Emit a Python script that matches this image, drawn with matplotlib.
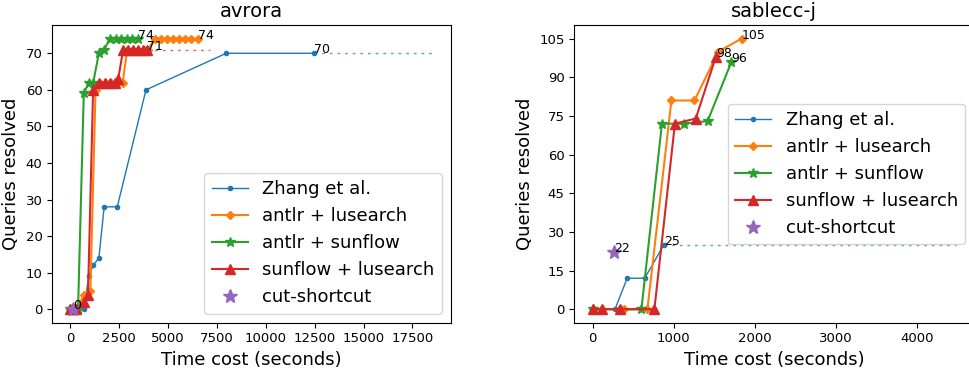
import matplotlib
matplotlib.use("Agg")
import matplotlib.pyplot as plt

# ---- avrora ----
av_zhang_x = [0, 300, 683, 937, 1166, 1455, 1727, 2396, 3867, 7977, 12450]
av_zhang_y = [0, 0, 0, 9, 12, 14, 28, 28, 60, 70, 70]
av_zhang_tail_x = [12450, 18550]

av_antlr_lus_x = [0, 150, 300, 700, 1020, 1284, 1505, 1800, 2090, 2380, 2670,
                  2907, 3200, 3480, 3760, 3970, 4311, 4618, 4944, 5251, 5558,
                  5885, 6192, 6530]
av_antlr_lus_y = [0, 0, 0, 4, 5, 60, 62, 62, 62, 62, 62,
                  71, 71, 71, 71, 71, 74, 74, 74, 74, 74,
                  74, 74, 74]

av_antlr_sun_x = [0, 150, 390, 683, 940, 1166, 1455, 1727, 2018, 2311, 2584,
                  2876, 3164, 3441]
av_antlr_sun_y = [0, 0, 0, 59, 62, 62, 70, 71, 74, 74, 74, 74, 74, 74]

av_sun_lus_x = [0, 150, 300, 683, 900, 1160, 1470, 1762, 2018, 2274, 2446,
                2700, 2960, 3216, 3473, 3730, 3900]
av_sun_lus_y = [0, 0, 0, 2, 4, 60, 62, 62, 62, 62, 63, 71, 71, 71, 71, 71, 71]
av_sun_lus_tail_x = [3900, 7140]

av_cut_x = [133]
av_cut_y = [0]

# ---- sablecc-j ----
sb_zhang_x = [0, 110, 275, 424, 640, 877]
sb_zhang_y = [0, 0, 0, 12, 12, 25]
sb_zhang_tail_x = [877, 4477]

sb_antlr_lus_x = [0, 110, 335, 388, 674, 970, 1254, 1548, 1835]
sb_antlr_lus_y = [0, 0, 0, 0, 0, 81, 81, 100, 105]

sb_antlr_sun_x = [0, 600, 853, 1131, 1416, 1710]
sb_antlr_sun_y = [0, 0, 72, 72, 73, 96]

sb_sun_lus_x = [0, 115, 335, 760, 1013, 1270, 1518]
sb_sun_lus_y = [0, 0, 0, 0, 72, 74, 98]

sb_cut_x = [266]
sb_cut_y = [22]

C_BLUE, C_ORANGE, C_GREEN, C_RED, C_PURPLE = "#1f77b4", "#ff7f0e", "#2ca02c", "#d62728", "#9467bd"
TAIL_STYLE = (0, (2, 3.5))


def draw(ax, zx, zy, ztail, alx, aly, asx, asy, slx, sly, sltail, cx, cy):
    ax.plot(zx, zy, marker=".", color=C_BLUE, lw=1, ms=6, label="Zhang et al.")
    ax.plot(alx, aly, marker="D", color=C_ORANGE, lw=1.5, ms=4, label="antlr + lusearch")
    ax.plot(asx, asy, marker="*", color=C_GREEN, lw=1.5, ms=7, label="antlr + sunflow")
    ax.plot(slx, sly, marker="^", color=C_RED, lw=1.5, ms=7, label="sunflow + lusearch")
    ax.plot(cx, cy, marker="*", color=C_PURPLE, ls="none", ms=10, label="cut-shortcut")

    # dotted continuation after the last solved query
    if ztail:
        ax.plot(ztail, [zy[-1]] * 2, color=C_BLUE, lw=1, ls=TAIL_STYLE, alpha=0.7)
    if sltail:
        ax.plot(sltail, [sly[-1]] * 2, color=C_RED, lw=1, ls=TAIL_STYLE, alpha=0.7)

    # final counts
    for xs, ys in [(zx, zy), (alx, aly), (asx, asy), (slx, sly), (cx, cy)]:
        ax.text(xs[-1], ys[-1], str(ys[-1]), fontsize=9)

    ax.set_xlabel("Time cost (seconds)", fontsize=13)
    ax.set_ylabel("Queries resolved", fontsize=13)
    ax.tick_params(labelsize=9.5)


fig = plt.figure(figsize=(9.69, 3.72), dpi=100)
ax1 = fig.add_axes([0.054, 0.1325, 0.4111, 0.800])
ax2 = fig.add_axes([0.5927, 0.1325, 0.4125, 0.800])

draw(ax1, av_zhang_x, av_zhang_y, av_zhang_tail_x,
     av_antlr_lus_x, av_antlr_lus_y, av_antlr_sun_x, av_antlr_sun_y,
     av_sun_lus_x, av_sun_lus_y, av_sun_lus_tail_x, av_cut_x, av_cut_y)
ax1.set_title("avrora", fontsize=14)
ax1.set_xlim(-927, 19460)
ax1.set_ylim(-3.7, 77.7)
ax1.set_xticks(range(0, 17501, 2500))
ax1.set_yticks(range(0, 71, 10))
ax1.legend(loc="lower right", fontsize=13)

draw(ax2, sb_zhang_x, sb_zhang_y, sb_zhang_tail_x,
     sb_antlr_lus_x, sb_antlr_lus_y, sb_antlr_sun_x, sb_antlr_sun_y,
     sb_sun_lus_x, sb_sun_lus_y, None, sb_cut_x, sb_cut_y)
ax2.set_title("sablecc-j", fontsize=14)
ax2.set_xlim(-227, 4700)
ax2.set_ylim(-5.25, 110.25)
ax2.set_xticks(range(0, 4001, 1000))
ax2.set_yticks(range(0, 106, 15))
ax2.legend(loc="center right", fontsize=13)

fig.savefig("out.png", dpi=100)
